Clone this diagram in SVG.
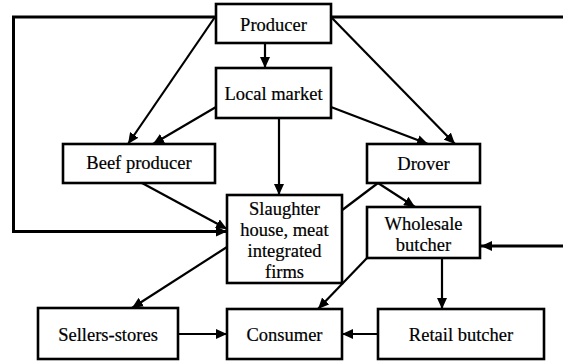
<svg xmlns="http://www.w3.org/2000/svg" width="563" height="362" viewBox="0 0 563 362">
<style>
.box{fill:#fff;stroke:#000;stroke-width:2.6}
.lbl{font-size:18.5px;fill:#000;stroke:#000;stroke-width:0.2;text-anchor:middle}
.c{fill:none;stroke:#000;stroke-width:2.2}
.c.thick{stroke-width:3}
.a{marker-end:url(#ah)}
</style>
<defs>
<marker id="ah" markerUnits="userSpaceOnUse" markerWidth="12" markerHeight="10" refX="11" refY="5" orient="auto">
<path d="M0,0 L11,5 L0,10 z" fill="#000"/>
</marker>
</defs>
<rect width="563" height="362" fill="#fff"/>
<g id="connectors">
<path class="c thick" d="M331,17 H563"/>
<path class="c thick a" d="M216,17 H13.5 V231.5 H227"/>
<path class="c a" d="M265,43 V68"/>
<path class="c a" d="M331,17 L455,144"/>
<path class="c a" d="M215,17 L128,144"/>
<polygon points="217,17 227,12 227,23" fill="#000"/>
<path class="c a" d="M216,107 L153,144"/>
<path class="c a" d="M279,118 V195"/>
<path class="c a" d="M331,107 L428,144"/>
<path class="c a" d="M142,183 L227,229"/>
<path class="c a" d="M378,183 L329,220"/>
<path class="c a" d="M378,183 L415,207"/>
<path class="c thick a" d="M563,246 H481"/>
<path class="c a" d="M442,258 V309"/>
<path class="c a" d="M367,258 L318,309"/>
<path class="c a" d="M227,247 L132,308"/>
<path class="c a" d="M178,334 H227"/>
<path class="c a" d="M378,334 H342"/>
</g>
<g font-family="Liberation Serif, DejaVu Serif, serif">
<g id="producer"><rect class="box" x="216" y="4" width="115" height="39"/><text class="lbl" x="273.5" y="31">Producer</text></g>
<g id="local-market"><rect class="box" x="216" y="68" width="115" height="50"/><text class="lbl" x="273.5" y="100">Local market</text></g>
<g id="beef-producer"><rect class="box" x="63" y="144" width="152" height="39"/><text class="lbl" x="139" y="169">Beef producer</text></g>
<g id="drover"><rect class="box" x="367" y="144" width="113" height="39"/><text class="lbl" x="423.5" y="170">Drover</text></g>
<g id="slaughter-house"><rect class="box" x="227" y="195" width="115" height="88"/>
<text class="lbl" x="284.5" y="215">Slaughter</text>
<text class="lbl" x="284.5" y="236">house, meat</text>
<text class="lbl" x="284.5" y="257">integrated</text>
<text class="lbl" x="284.5" y="278">firms</text></g>
<g id="wholesale-butcher"><rect class="box" x="367" y="207" width="113" height="51"/>
<text class="lbl" x="423.5" y="230">Wholesale</text>
<text class="lbl" x="423.5" y="251">butcher</text></g>
<g id="sellers-stores"><rect class="box" x="38" y="308" width="140" height="51"/><text class="lbl" x="108" y="341">Sellers-stores</text></g>
<g id="consumer"><rect class="box" x="227" y="309" width="115" height="50"/><text class="lbl" x="284.5" y="341">Consumer</text></g>
<g id="retail-butcher"><rect class="box" x="378" y="309" width="166" height="50"/><text class="lbl" x="461" y="341">Retail butcher</text></g>
</g>
</svg>
